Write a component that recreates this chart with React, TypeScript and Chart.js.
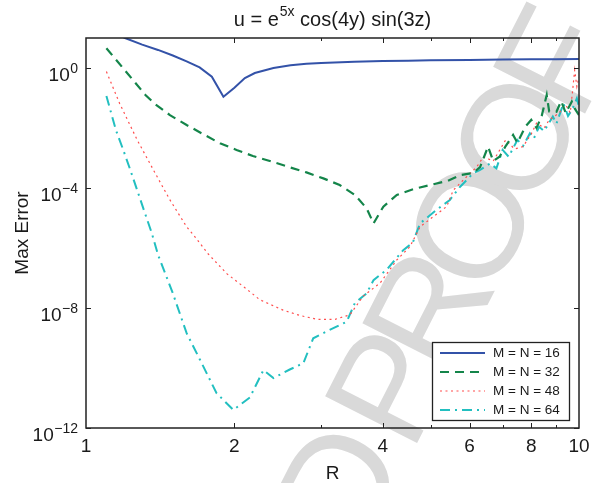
import React, { useEffect, useRef } from 'react';
import { Chart, registerables } from 'chart.js';

Chart.register(...registerables);

const FONT = '"Liberation Sans", Arial, Helvetica, sans-serif';

// ---- data (R, max error) ----
const blueR = [1.1, 1.2, 1.3, 1.4, 1.5, 1.6, 1.7, 1.8, 1.9, 2.0, 2.1, 2.2, 2.4, 2.6, 2.8, 3.0, 3.5, 4, 4.5, 5, 6, 7, 8, 9, 10];
const blueErr = [20, 10, 6.0, 4.0, 2.6, 1.66, 1.05, 0.51, 0.11, 0.22, 0.46, 0.68, 1.0, 1.23, 1.38, 1.48, 1.62, 1.70, 1.76, 1.80, 1.86, 1.91, 1.95, 1.97, 2.0];

const greenR = [1.1, 1.19, 1.32, 1.38, 1.48, 1.60, 1.73, 1.87, 2.02, 2.18, 2.35, 2.59, 2.80, 3.03, 3.27, 3.51, 3.71, 3.83, 4.01, 4.27, 4.61, 4.99, 5.42, 5.74, 6.1, 6.3, 6.54, 6.7, 6.9, 7.1, 7.35, 7.5, 7.78, 8.0, 8.2, 8.4, 8.6, 8.7, 9.0, 9.2, 9.4, 9.67, 9.8, 10];
const greenErr = [4.57, 0.977, 0.126, 0.0631, 0.0269, 0.0126, 6.17e-3, 3.09e-3, 1.86e-3, 1.17e-3, 8.13e-4, 4.9e-4, 3.31e-4, 2.09e-4, 1.26e-4, 5.89e-5, 2.09e-5, 6.61e-6, 2.4e-5, 5.89e-5, 9.12e-5, 1.26e-4, 1.74e-4, 2.69e-4, 3.16e-4, 5.0e-4, 2.4e-3, 7.9e-4, 1.1e-3, 2.5e-3, 5.9e-3, 3.2e-3, 0.011, 0.0186, 0.01, 0.025, 0.126, 0.0355, 0.0347, 0.079, 0.0316, 0.076, 0.045, 0.027];

const redR = [1.1, 1.17, 1.27, 1.37, 1.48, 1.60, 1.65, 1.77, 1.93, 2.15, 2.25, 2.51, 2.72, 2.94, 3.2, 3.43, 3.65, 3.95, 4.27, 4.54, 4.76, 5.06, 5.39, 5.56, 5.92, 6.2, 6.4, 6.7, 7.1, 7.4, 7.7, 8.0, 8.2, 8.5, 8.7, 9.1, 9.4, 9.6, 9.7, 9.8, 9.9, 10];
const redErr = [0.76, 0.066, 4.0e-3, 4.0e-4, 4.0e-5, 5.1e-6, 2.8e-6, 6.3e-7, 1.4e-7, 3.5e-8, 1.9e-8, 8.5e-9, 5.6e-9, 4.2e-9, 4.2e-9, 5.9e-9, 2.5e-8, 6.8e-8, 4.0e-7, 1.1e-6, 5.1e-6, 1.1e-5, 2.4e-5, 8.5e-5, 2.4e-4, 5.0e-4, 1.1e-3, 7.9e-4, 4.0e-3, 2.0e-3, 2.4e-3, 6.3e-3, 0.0145, 0.01, 0.0186, 0.031, 0.059, 0.032, 0.16, 0.85, 0.24, 0.5];

const cyanR = [1.1, 1.15, 1.19, 1.23, 1.27, 1.31, 1.36, 1.40, 1.50, 1.60, 1.70, 1.84, 1.99, 2.15, 2.29, 2.40, 2.59, 2.76, 2.89, 3.12, 3.38, 3.51, 3.71, 3.83, 4.07, 4.40, 4.6, 4.76, 5.14, 5.47, 5.74, 6.1, 6.3, 6.6, 6.8, 7.0, 7.2, 7.5, 7.7, 7.95, 8.1, 8.3, 8.5, 8.85, 9.0, 9.3, 9.5, 9.67, 9.8, 9.9, 10];
const cyanErr = [0.117, 8.5e-3, 1.86e-3, 4.0e-4, 8.5e-5, 1.86e-5, 3.1e-6, 5.9e-7, 3.1e-8, 1.45e-9, 2.0e-10, 1.45e-11, 4.0e-12, 1.05e-11, 8.5e-11, 4.6e-11, 8.9e-11, 1.45e-10, 9.8e-10, 1.86e-9, 3.5e-9, 1.45e-8, 3.1e-8, 8.5e-8, 1.86e-7, 8.5e-7, 1.5e-6, 6.6e-6, 1.86e-5, 4.0e-5, 1.1e-4, 3.1e-4, 4.0e-4, 6.6e-4, 4.5e-4, 1.86e-3, 1.1e-3, 4.0e-3, 2.5e-3, 6.6e-3, 4.5e-3, 0.011, 7.9e-3, 0.024, 0.014, 0.066, 0.025, 0.04, 0.063, 0.098, 0.05];

const seriesLabels = ['M = N = 16', 'M = N = 32', 'M = N = 48', 'M = N = 64'];

// ---- axis ticks ----
const xTickLabels = [1, 2, 4, 6, 8, 10];
const xAllTicks = [2, 3, 4, 5, 6, 7, 8, 9];
const yTickValues = [1, 1e-4, 1e-8, 1e-12];
const yTickExps = ['0', '\u22124', '\u22128', '\u221212'];

const toPts = (xs: number[], ys: number[]) => xs.map((x, i) => ({ x, y: ys[i] }));

export default function App() {
  const ref = useRef<HTMLCanvasElement>(null);

  useEffect(() => {
    const canvas = ref.current;
    if (!canvas) return;

    const decor = {
      id: 'decor',
      beforeDraw(chart: any) {
        const ctx = chart.ctx as any;
        ctx.save();
        ctx.fillStyle = '#ffffff';
        ctx.fillRect(0, 0, chart.width, chart.height);
        // watermark
        const fs = 150;
        ctx.font = `${fs}px ${FONT}`;
        ctx.letterSpacing = '-18px';
        ctx.fillStyle = '#d9d9d9';
        ctx.translate(460, 240);
        ctx.rotate((-63 * Math.PI) / 180);
        const pre = ctx.measureText('UNCORRECTED PR').width;
        const wO = ctx.measureText('O').width;
        ctx.textBaseline = 'alphabetic';
        ctx.fillText('UNCORRECTED PROOF', -(pre + (wO + 18) / 2 - 18), fs * 0.36);
        ctx.restore();
      },
      afterDraw(chart: any) {
        const ctx = chart.ctx as CanvasRenderingContext2D;
        const a = chart.chartArea;
        const xs = chart.scales.x;
        const ys = chart.scales.y;
        ctx.save();
        // frame
        ctx.strokeStyle = '#222';
        ctx.lineWidth = 1.5;
        ctx.strokeRect(a.left, a.top, a.right - a.left, a.bottom - a.top);
        // ticks (inward, all sides)
        ctx.lineWidth = 1;
        ctx.beginPath();
        xAllTicks.forEach((v) => {
          const px = Math.round(xs.getPixelForValue(v)) + 0.5;
          const len = xTickLabels.includes(v) ? 5 : 3;
          ctx.moveTo(px, a.bottom);
          ctx.lineTo(px, a.bottom - len);
          ctx.moveTo(px, a.top);
          ctx.lineTo(px, a.top + len);
        });
        yTickValues.forEach((v) => {
          const py = Math.round(ys.getPixelForValue(v)) + 0.5;
          ctx.moveTo(a.left, py);
          ctx.lineTo(a.left + 5, py);
          ctx.moveTo(a.right, py);
          ctx.lineTo(a.right - 5, py);
        });
        ctx.stroke();
        // x labels
        ctx.fillStyle = '#1a1a1a';
        ctx.font = `19px ${FONT}`;
        ctx.textAlign = 'center';
        ctx.textBaseline = 'alphabetic';
        xTickLabels.forEach((v) => {
          ctx.fillText(String(v), xs.getPixelForValue(v), 452);
        });
        // y labels: 10 with superscript exponent
        ctx.textAlign = 'left';
        yTickValues.forEach((v, i) => {
          const py = ys.getPixelForValue(v);
          ctx.font = `14px ${FONT}`;
          const ws = ctx.measureText(yTickExps[i]).width;
          ctx.font = `19px ${FONT}`;
          const wb = ctx.measureText('10').width;
          const right = 78;
          ctx.fillText('10', right - ws - wb - 0.5, py + 13);
          ctx.font = `14px ${FONT}`;
          ctx.fillText(yTickExps[i], right - ws, py + 5);
        });
        // axis titles
        ctx.font = `19px ${FONT}`;
        ctx.textAlign = 'center';
        ctx.fillText('R', (a.left + a.right) / 2, 479);
        ctx.save();
        ctx.translate(28, (a.top + a.bottom) / 2);
        ctx.rotate(-Math.PI / 2);
        ctx.fillText('Max Error', 0, 0);
        ctx.restore();
        // title with superscript
        const t1 = 'u = e';
        const t2 = '5x';
        const t3 = ' cos(4y) sin(3z)';
        ctx.font = `20px ${FONT}`;
        const w1 = ctx.measureText(t1).width;
        const w3 = ctx.measureText(t3).width;
        ctx.font = `14px ${FONT}`;
        const w2 = ctx.measureText(t2).width;
        const cx = (a.left + a.right) / 2;
        let tx = cx - (w1 + w2 + w3 + 1) / 2;
        ctx.textAlign = 'left';
        ctx.font = `20px ${FONT}`;
        ctx.fillText(t1, tx, 26);
        tx += w1 + 1;
        ctx.font = `14px ${FONT}`;
        ctx.fillText(t2, tx, 16);
        tx += w2;
        ctx.font = `20px ${FONT}`;
        ctx.fillText(t3, tx, 26);
        // legend
        const lx = 432, ly = 342, lw = 137, lh = 78;
        ctx.fillStyle = '#fff';
        ctx.fillRect(lx, ly, lw, lh);
        ctx.strokeStyle = '#222';
        ctx.lineWidth = 1.3;
        ctx.strokeRect(lx + 0.5, ly + 0.5, lw, lh);
        chart.data.datasets.forEach((ds: any, i: number) => {
          const ry = ly + 11 + i * 19;
          ctx.save();
          ctx.strokeStyle = ds.borderColor;
          ctx.lineWidth = ds.borderWidth;
          ctx.setLineDash(ds.borderDash || []);
          ctx.beginPath();
          ctx.moveTo(lx + 8, ry);
          ctx.lineTo(lx + 53, ry);
          ctx.stroke();
          ctx.restore();
          ctx.fillStyle = '#1a1a1a';
          ctx.font = `13.5px ${FONT}`;
          ctx.textAlign = 'left';
          ctx.textBaseline = 'middle';
          ctx.fillText(ds.label, lx + 61, ry + 0.5);
        });
        ctx.restore();
      },
    };

    const chart = new Chart(canvas, {
      type: 'line',
      data: {
        datasets: [
          { label: seriesLabels[0], data: toPts(blueR, blueErr), borderColor: '#3352a8', borderWidth: 2, borderDash: [], pointRadius: 0, fill: false, tension: 0 },
          { label: seriesLabels[1], data: toPts(greenR, greenErr), borderColor: '#14854a', borderWidth: 2.2, borderDash: [9, 6], pointRadius: 0, fill: false, tension: 0 },
          { label: seriesLabels[2], data: toPts(redR, redErr), borderColor: '#ff4d4d', borderWidth: 1.2, borderDash: [2, 3.5], pointRadius: 0, fill: false, tension: 0 },
          { label: seriesLabels[3], data: toPts(cyanR, cyanErr), borderColor: '#22bfc0', borderWidth: 2, borderDash: [10, 5, 2, 5], pointRadius: 0, fill: false, tension: 0 },
        ],
      },
      options: {
        responsive: false,
        animation: false,
        devicePixelRatio: 1,
        events: [],
        layout: { padding: { left: 86, right: 13, top: 38, bottom: 55 } },
        scales: {
          x: { type: 'logarithmic', min: 1, max: 10, display: false },
          y: { type: 'logarithmic', min: 1e-12, max: 10, display: false },
        },
        plugins: {
          legend: { display: false },
          title: { display: false },
          tooltip: { enabled: false },
        },
      } as any,
      plugins: [decor],
    });
    return () => chart.destroy();
  }, []);

  return (
    <div style={{ position: 'absolute', left: 0, top: 0, width: 592, height: 483, background: '#fff' }}>
      <canvas ref={ref} width={592} height={483} style={{ display: 'block' }} />
    </div>
  );
}
